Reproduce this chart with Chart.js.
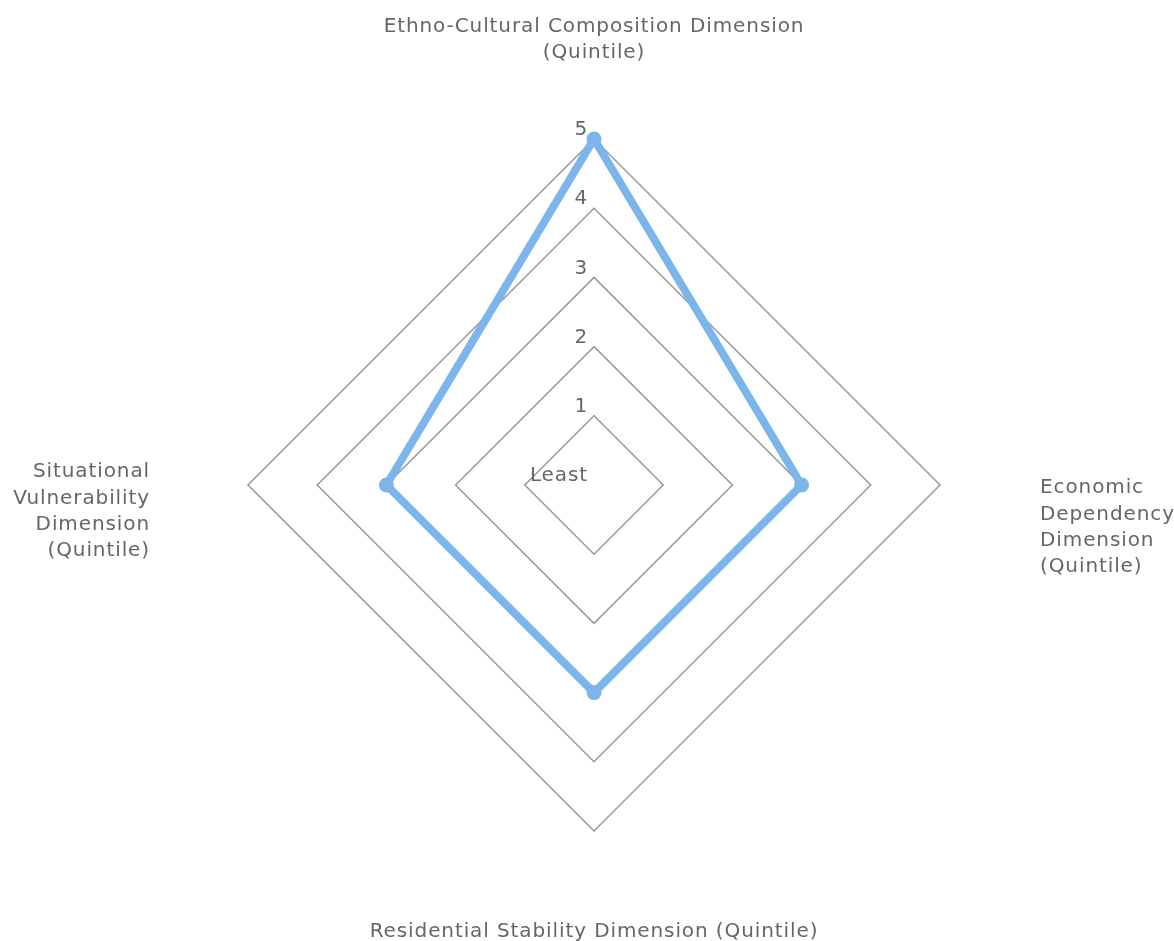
<!DOCTYPE html>
<html>
<head>
<meta charset="utf-8">
<script src="https://cdn.jsdelivr.net/npm/chart.js@4"></script>
<style>
    body { margin: 0; background: #fff; }
</style>
</head>
<body>
<canvas id="radarChart" width="1174" height="941"></canvas>
<script>
// Dimension names (one label per axis, split into lines)
const dimensions = [
    ['Ethno-Cultural Composition Dimension', '(Quintile)'],
    ['Economic', 'Dependency', 'Dimension', '(Quintile)'],
    ['Residential Stability Dimension (Quintile)'],
    ['Situational', 'Vulnerability', 'Dimension', '(Quintile)']
];
// Quintile scores
const quintiles = [5, 3, 3, 3];
// Tick labels for values 0..5
const tickLabels = ['Least', '1', '2', '3', '4', '5'];

const textColor = '#666666';
const fontFamily = '"DejaVu Sans", Verdana, sans-serif';

// Draws tick labels and axis names next to the radial scale
const labelPlugin = {
    id: 'radarLabels',
    afterDatasetsDraw(chart) {
        const scale = chart.scales.r;
        const ctx = chart.ctx;
        ctx.save();
        ctx.fillStyle = textColor;
        ctx.font = '20px ' + fontFamily;
        ctx.letterSpacing = '0.9px';
        ctx.textBaseline = 'middle';

        // tick labels, slightly up-left of each ring's top vertex
        ctx.textAlign = 'right';
        scale.ticks.forEach(tick => {
            const d = scale.getDistanceFromCenterForValue(tick.value);
            ctx.fillText(tickLabels[tick.value], scale.xCenter - 6, scale.yCenter - d - 9);
        });

        // axis names
        const lineH = 26.3;
        const pad = [86, 100, 101, 98];
        dimensions.forEach((lines, i) => {
            const p = scale.getPointPosition(i, scale.drawingArea + pad[i]);
            let align, y0;
            if (i === 0) { align = 'center'; y0 = p.y - (lines.length - 1) * lineH; }
            else if (i === 1) { align = 'left'; y0 = p.y + 3; }
            else if (i === 2) { align = 'center'; y0 = p.y; }
            else { align = 'right'; y0 = p.y - 13; }
            ctx.textAlign = align;
            lines.forEach((line, k) => {
                ctx.fillText(line, p.x, y0 + k * lineH);
            });
        });
        ctx.restore();
    }
};

new Chart(document.getElementById('radarChart'), {
    type: 'radar',
    data: {
        labels: dimensions,
        datasets: [{
            data: quintiles,
            borderColor: '#7cb5ec',
            backgroundColor: '#7cb5ec',
            pointBackgroundColor: '#7cb5ec',
            pointBorderColor: '#7cb5ec',
            borderWidth: 8,
            borderJoinStyle: 'round',
            pointRadius: 7.5,
            pointBorderWidth: 0,
            fill: false
        }]
    },
    options: {
        responsive: false,
        animation: false,
        layout: {
            padding: { left: 200, right: 186, top: 139, bottom: 110 }
        },
        plugins: {
            legend: { display: false },
            tooltip: { enabled: false }
        },
        scales: {
            r: {
                min: 0,
                max: 5,
                ticks: { display: false, stepSize: 1 },
                grid: { color: '#999999', lineWidth: 1.5 },
                angleLines: { display: false },
                pointLabels: { display: false }
            }
        }
    },
    plugins: [labelPlugin]
});
</script>
</body>
</html>
